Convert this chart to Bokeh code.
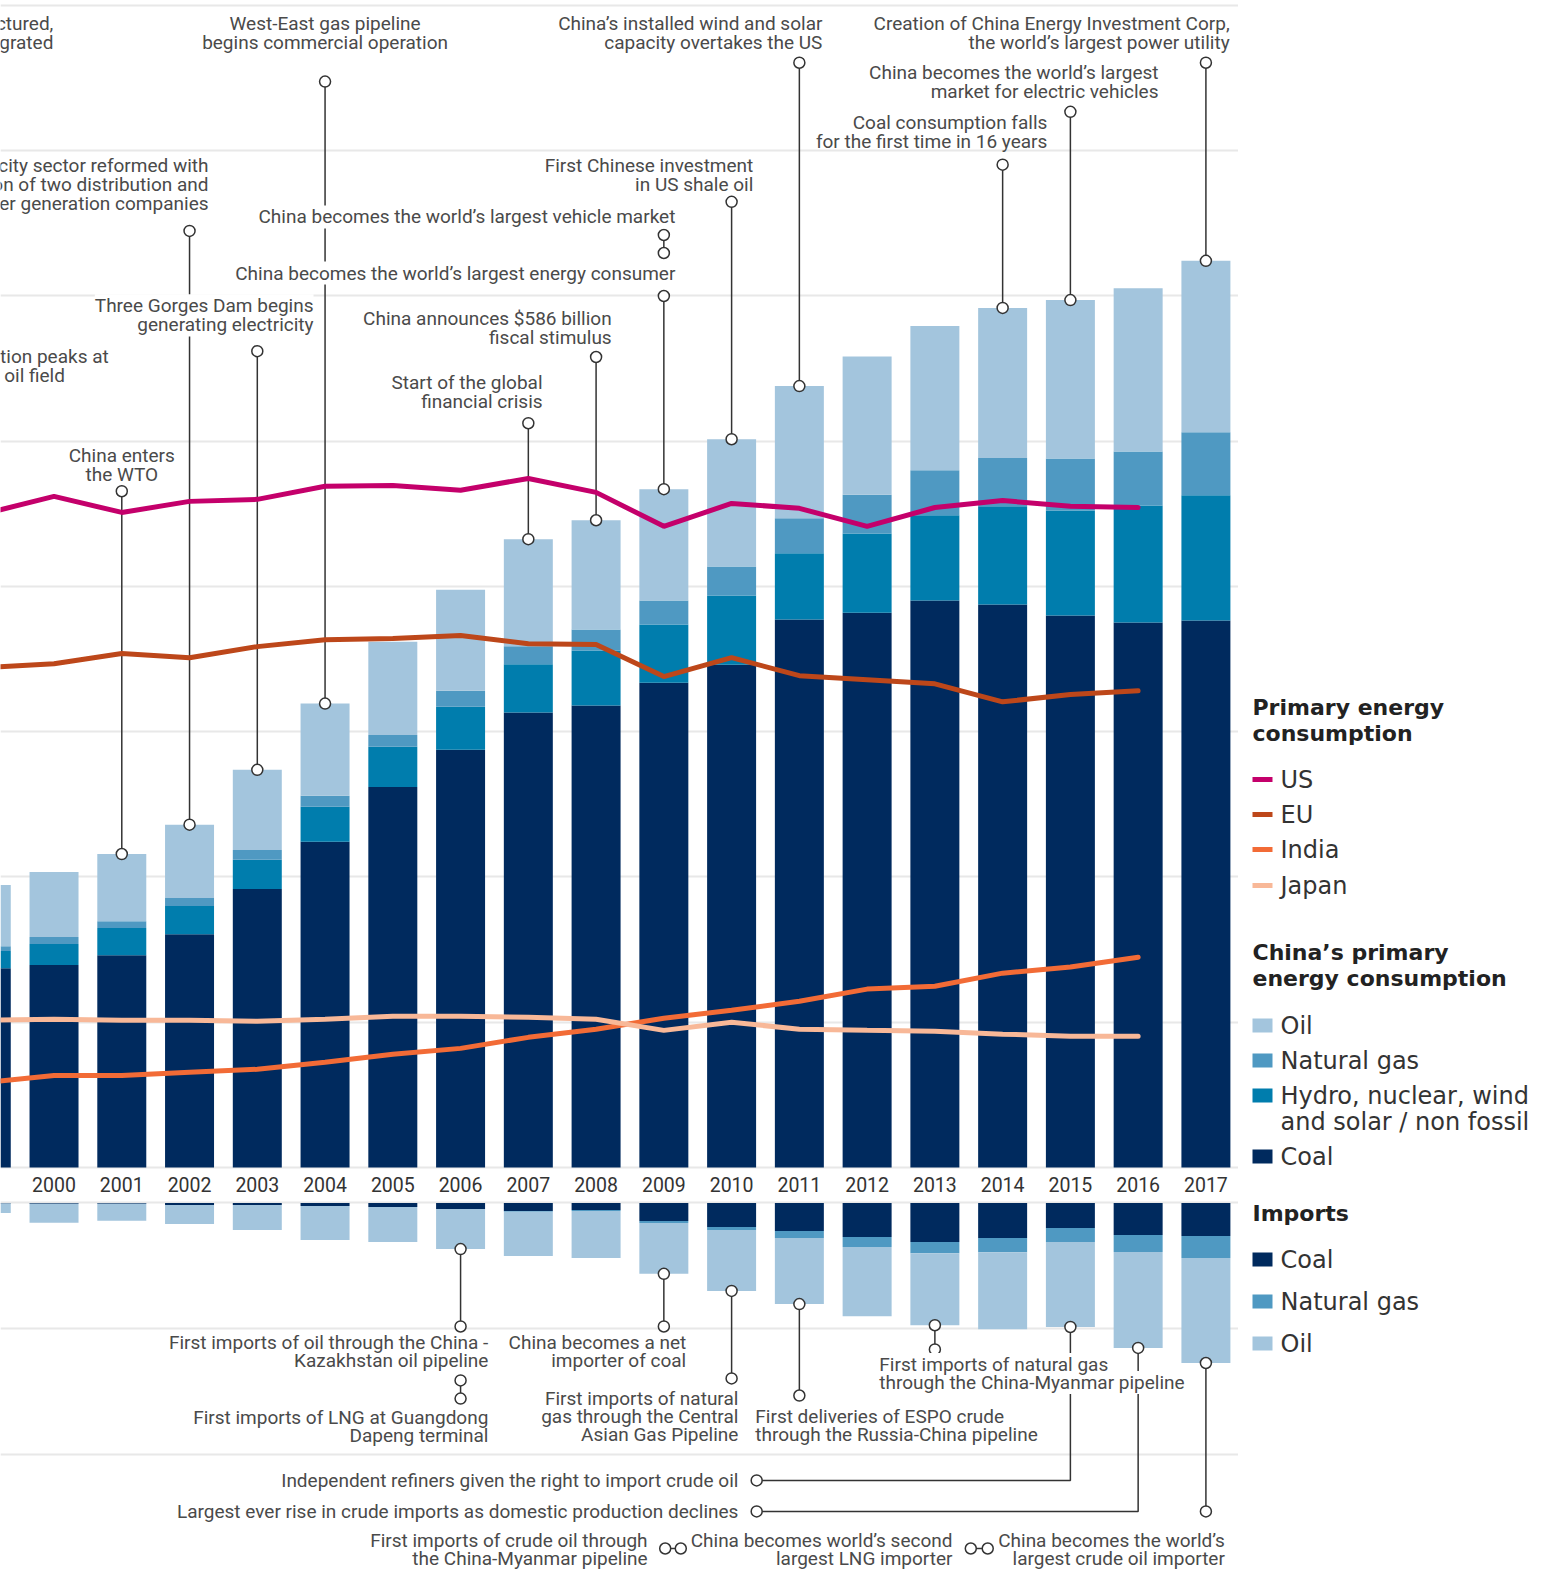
from bokeh.plotting import figure
from bokeh.models import ColumnDataSource, Range1d, FixedTicker, Grid
from bokeh.layouts import row, column
from bokeh.core.properties import value
from bokeh.embed import file_html
from bokeh.resources import INLINE

# ---------------- data (Mtoe) ----------------
years = list(range(1999, 2018))
coal = [686, 697, 731, 803, 959, 1121, 1310, 1438, 1566, 1590, 1669, 1731, 1886, 1910, 1952, 1938, 1900, 1876, 1883]
non_fossil = [59, 72, 93, 97, 100, 121, 138, 148, 166, 190, 200, 238, 228, 272, 293, 338, 362, 403, 431]
gas = [17, 24, 24, 28, 34, 38, 41, 55, 62, 72, 83, 100, 121, 134, 155, 166, 179, 186, 217]
oil = [210, 224, 231, 252, 276, 317, 321, 348, 369, 376, 383, 438, 455, 476, 497, 517, 545, 562, 590]

line_years = list(range(1999, 2017))
us = [2252, 2310, 2255, 2293, 2300, 2345, 2348, 2331, 2372, 2324, 2207, 2286, 2269, 2207, 2272, 2296, 2276, 2272]
eu = [1721, 1734, 1769, 1755, 1793, 1817, 1821, 1831, 1803, 1800, 1690, 1755, 1693, 1679, 1665, 1603, 1628, 1641]
india = [293, 317, 317, 328, 338, 362, 390, 410, 448, 476, 514, 541, 572, 614, 624, 669, 690, 724]
japan = [507, 510, 507, 507, 503, 510, 521, 521, 517, 510, 472, 500, 476, 472, 469, 459, 452, 452]

imp_coal = [2, 3, 3, 8, 8, 12, 16, 24, 32, 28, 71, 95, 111, 135, 155, 139, 99, 127, 131]
imp_gas = [0, 0, 0, 0, 0, 0, 0, 0, 3, 4, 8, 12, 28, 40, 44, 56, 56, 67, 87]
imp_oil = [38, 75, 67, 75, 99, 135, 139, 159, 175, 186, 202, 242, 262, 274, 286, 306, 337, 381, 417]

tick_labels = [str(y) for y in years]
upper_grid = [0, 500, 1000, 1500, 2000, 2500, 3000, 3500, 4000]
lower_grid = [0, -500, -1000]

# ---------------- styles ----------------
C_COAL = "#002a5e"
C_NONF = "#007dad"
C_GAS = "#4f99c2"
C_OIL = "#a3c5dd"
C_US = "#c4006b"
C_EU = "#bd471a"
C_IN = "#f26b36"
C_JP = "#f8b898"
GRID = "#e8e8e8"
INK = "#333333"
TXT = "#4a4a4a"
FONT = "Roboto"
LFONT = "DejaVu Sans"

S_UP = 0.29    # px per Mtoe, upper panel (layout)
S_LO = 0.252   # px per Mtoe, imports panel (layout)
LS_UP = 19 / S_UP
LS_LO = 18 / S_LO
BAR_W = 0.723

total = {y: c + n + g + o for y, c, n, g, o in zip(years, coal, non_fossil, gas, oil)}
imp_total = {y: c + g + o for y, c, g, o in zip(years, imp_coal, imp_gas, imp_oil)}

x_range = Range1d(1999.21, 2017.481)


def base_fig(w, h, yr, xaxis=None):
    p = figure(width=w, height=h, x_range=x_range, y_range=yr,
               output_backend="svg", toolbar_location=None,
               x_axis_location=xaxis, y_axis_location=None, min_border=0)
    p.outline_line_color = None
    for g in p.grid:
        g.visible = False
    p.background_fill_color = "white"
    p.border_fill_color = "white"
    return p


def add_text(p, notes, step, halo=False):
    for align in ("left", "center", "right"):
        xs, ys, ts = [], [], []
        for lines, x, al, y0 in notes:
            if al != align:
                continue
            for i, ln in enumerate(lines):
                xs.append(x)
                ys.append(y0 - i * step)
                ts.append(ln)
        if not xs:
            continue
        common = dict(text_align=align, text_baseline="middle",
                      text_font=value(FONT), text_font_size="19px")
        if halo:
            # white knock-out boxes first, then the text on top
            p.text(x=xs, y=ys, text=ts, text_color="white", text_alpha=0.0,
                   background_fill_color="white", padding=0, **common)
        p.text(x=xs, y=ys, text=ts, text_color=TXT, **common)


def circles(p, xs, ys):
    p.scatter(x=xs, y=ys, size=11, fill_color="white", line_color=INK, line_width=1.5)


# ---------------- upper panel ----------------
up = base_fig(1238, 1194, Range1d(-20.7, 4017.2), xaxis="below")
up.add_layout(Grid(dimension=1, ticker=FixedTicker(ticks=upper_grid),
                   grid_line_color=GRID, grid_line_width=2))
ax = up.xaxis[0]
ax.ticker = FixedTicker(ticks=years)
ax.major_label_overrides = {y: t for y, t in zip(years, tick_labels)}
ax.axis_line_color = None
ax.major_tick_line_color = None
ax.minor_tick_line_color = None
ax.major_tick_in = 0
ax.major_tick_out = 0
ax.major_label_standoff = 3
ax.major_label_text_font = FONT
ax.major_label_text_font_size = "19.5px"
ax.major_label_text_color = INK

src = ColumnDataSource(dict(year=years, coal=coal, nonf=non_fossil, gas=gas, oil=oil))
up.vbar_stack(["coal", "nonf", "gas", "oil"], x="year", width=BAR_W, source=src,
              fill_color=[C_COAL, C_NONF, C_GAS, C_OIL], line_color=None)

# leaders (year, top level); bottom end sits on the bar top
up_leaders = [(2001, 2328), (2002, 3224), (2003, 2810), (2004, 3738), (2007, 2562),
              (2008, 2790), (2009, 3000), (2010, 3324), (2011, 3803), (2014, 3452),
              (2015, 3634), (2017, 3803)]
up_pairs = [(2009, 3210, 3148)]
lx0 = [y for y, _ in up_leaders] + [y for y, _, _ in up_pairs]
ly0 = [total[y] for y, _ in up_leaders] + [a for _, a, _ in up_pairs]
ly1 = [t for _, t in up_leaders] + [b for _, _, b in up_pairs]
up.segment(x0=lx0, y0=ly0, x1=lx0, y1=ly1, line_color=INK, line_width=1.5)

for ys_, col in ((us, C_US), (eu, C_EU), (india, C_IN), (japan, C_JP)):
    up.line(line_years, ys_, line_color=col, line_width=5, line_cap="round")

circles(up, lx0 + lx0, ly0 + ly1)

up_notes = [
    (["Oil and gas sector restructured,", "with companies vertically integrated"], 1999.99, "right", 3938),
    (["West-East gas pipeline", "begins commercial operation"], 2004.0, "center", 3938),
    (["China\u2019s installed wind and solar", "capacity overtakes the US"], 2011.34, "right", 3938),
    (["Creation of China Energy Investment Corp,", "the world\u2019s largest power utility"], 2017.35, "right", 3938),
    (["China becomes the world\u2019s largest", "market for electric vehicles"], 2016.30, "right", 3769),
    (["Coal consumption falls", "for the first time in 16 years"], 2014.66, "right", 3597),
    (["Electricity sector reformed with", "creation of two distribution and", "five power generation companies"], 2002.28, "right", 3448),
    (["First Chinese investment", "in US shale oil"], 2010.32, "right", 3448),
    (["Crude oil production peaks at", "the giant Daqing oil field"], 1997.16, "left", 2793),
    (["China announces $586 billion", "fiscal stimulus"], 2008.23, "right", 2924),
    (["Start of the global", "financial crisis"], 2007.21, "right", 2703),
    (["China enters", "the WTO"], 2001.0, "center", 2452),
]
up_halo_notes = [
    (["China becomes the world\u2019s largest vehicle market"], 2009.17, "right", 3272),
    (["China becomes the world\u2019s largest energy consumer"], 2009.17, "right", 3079),
    (["Three Gorges Dam begins", "generating electricity"], 2003.83, "right", 2966),
]
add_text(up, up_notes, LS_UP)
add_text(up, up_halo_notes, LS_UP, halo=True)

# ---------------- imports panel ----------------
lo = base_fig(1238, 377, Range1d(-1462.3, 33.7))
lo.add_layout(Grid(dimension=1, ticker=FixedTicker(ticks=lower_grid),
                   grid_line_color=GRID, grid_line_width=2))
isrc = ColumnDataSource(dict(year=years,
                             coal=[-v for v in imp_coal],
                             gas=[-v for v in imp_gas],
                             oil=[-v for v in imp_oil]))
lo.vbar_stack(["coal", "gas", "oil"], x="year", width=BAR_W, source=isrc,
              fill_color=[C_COAL, C_GAS, C_OIL], line_color=None)

lo_leaders = [(2006, -490), (2009, -490), (2010, -696), (2011, -764), (2013, -581), (2017, -1224)]
lo_pairs = [(2006, -704, -776)]
mx0 = [y for y, _ in lo_leaders] + [y for y, _, _ in lo_pairs]
my0 = [-imp_total[y] for y, _ in lo_leaders] + [a for _, a, _ in lo_pairs]
my1 = [t for _, t in lo_leaders] + [b for _, _, b in lo_pairs]
lo.segment(x0=mx0, y0=my0, x1=mx0, y1=my1, line_color=INK, line_width=1.5)

# elbow leaders: (circle x, level, bar year)
elbows = [(2010.37, -1101, 2015), (2010.37, -1224, 2016)]
lo.multi_line(xs=[[cx, yr, yr] for cx, lv, yr in elbows],
              ys=[[lv, lv, -imp_total[yr]] for cx, lv, yr in elbows],
              line_color=INK, line_width=1.5)
# horizontal linked pairs
hpairs = [(2009.02, 2009.25, -1371), (2013.53, 2013.78, -1371)]
lo.segment(x0=[a for a, b, l in hpairs], y0=[l for a, b, l in hpairs],
           x1=[b for a, b, l in hpairs], y1=[l for a, b, l in hpairs],
           line_color=INK, line_width=1.5)

cxs = mx0 + mx0 + [cx for cx, lv, yr in elbows] + [yr for cx, lv, yr in elbows] \
    + [a for a, b, l in hpairs] + [b for a, b, l in hpairs]
cys = my0 + my1 + [lv for cx, lv, yr in elbows] + [-imp_total[yr] for cx, lv, yr in elbows] \
    + [l for a, b, l in hpairs] + [l for a, b, l in hpairs]
circles(lo, cxs, cys)

lo_notes = [
    (["First imports of oil through the China -", "Kazakhstan oil pipeline"], 2006.41, "right", -553),
    (["First imports of LNG at Guangdong", "Dapeng terminal"], 2006.41, "right", -853),
    (["China becomes a net", "importer of coal"], 2009.33, "right", -553),
    (["First imports of natural", "gas through the Central", "Asian Gas Pipeline"], 2010.10, "right", -776),
    (["First deliveries of ESPO crude", "through the Russia-China pipeline"], 2010.35, "left", -847),
    (["Independent refiners given the right to import crude oil"], 2010.10, "right", -1101),
    (["Largest ever rise in crude imports as domestic production declines"], 2010.10, "right", -1224),
    (["First imports of crude oil through", "the China-Myanmar pipeline"], 2008.76, "right", -1339),
    (["China becomes world\u2019s second", "largest LNG importer"], 2013.26, "right", -1339),
    (["China becomes the world\u2019s", "largest crude oil importer"], 2017.28, "right", -1339),
]
lo_halo_notes = [
    (["First imports of natural gas", "through the China-Myanmar pipeline"], 2012.18, "left", -641),
]
add_text(lo, lo_notes, LS_LO)
add_text(lo, lo_halo_notes, LS_LO, halo=True)

# ---------------- legend panel ----------------
lg = figure(width=312, height=1571, x_range=Range1d(1238, 1550), y_range=Range1d(1571, 0),
            output_backend="svg", toolbar_location=None,
            x_axis_location=None, y_axis_location=None, min_border=0)
lg.outline_line_color = None
for g in lg.grid:
    g.visible = False

titles = [("Primary energy", 707), ("consumption", 733),
          ("China\u2019s primary", 952), ("energy consumption", 978),
          ("Imports", 1213)]
lg.text(x=[1252] * len(titles), y=[t[1] for t in titles], text=[t[0] for t in titles],
        text_align="left", text_baseline="middle", text_font=value(LFONT),
        text_font_style="bold", text_font_size="22px", text_color="#222222")

line_items = [("US", C_US, 779), ("EU", C_EU, 814), ("India", C_IN, 849), ("Japan", C_JP, 885)]
lg.segment(x0=[1252] * 4, x1=[1272] * 4, y0=[i[2] for i in line_items], y1=[i[2] for i in line_items],
           line_color=[i[1] for i in line_items], line_width=5)

box_items = [("Oil", C_OIL, 1025), ("Natural gas", C_GAS, 1060), ("Hydro, nuclear, wind", C_NONF, 1095),
             ("Coal", C_COAL, 1156), ("Coal", C_COAL, 1259), ("Natural gas", C_GAS, 1301), ("Oil", C_OIL, 1343)]
lg.rect(x=[1262] * len(box_items), y=[b[2] for b in box_items], width=20, height=14,
        fill_color=[b[1] for b in box_items], line_color=None)

item_texts = [(i[0], i[2]) for i in line_items] + [(b[0], b[2]) for b in box_items] \
    + [("and solar / non fossil", 1121)]
lg.text(x=[1280] * len(item_texts), y=[t[1] for t in item_texts], text=[t[0] for t in item_texts],
        text_align="left", text_baseline="middle", text_font=value(LFONT),
        text_font_size="24px", text_color=INK)

layout = row(column(up, lo), lg)
open("out.html", "w").write(file_html(layout, INLINE))
